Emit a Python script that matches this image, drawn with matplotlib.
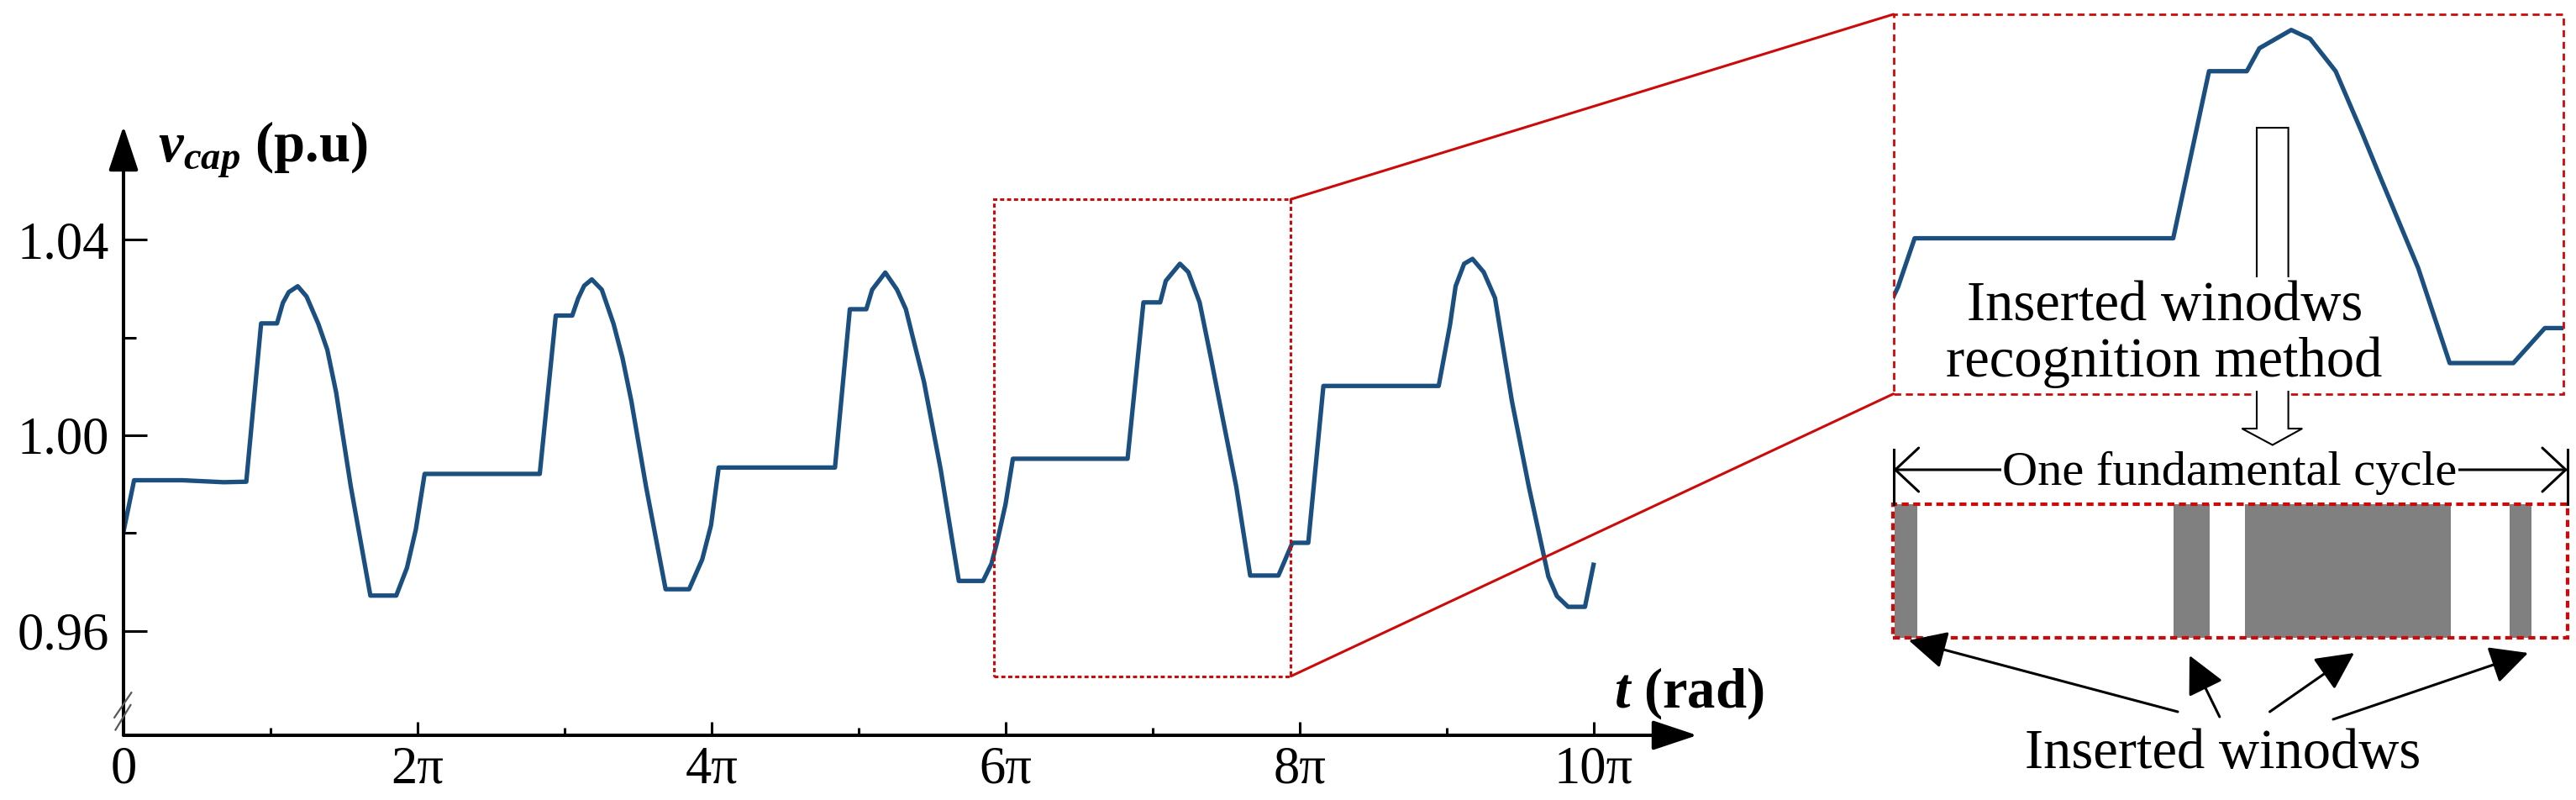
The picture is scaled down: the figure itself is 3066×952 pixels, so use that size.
import matplotlib
matplotlib.use('Agg')
import matplotlib.pyplot as plt
from matplotlib.patches import Rectangle, Polygon, ConnectionPatch, FancyArrowPatch
from matplotlib.lines import Line2D
import numpy as np

# ---------------- data ----------------
t_pi = [0.000, 0.072, 0.400, 0.680, 0.835, 0.936, 1.044, 1.084, 1.124, 1.185,
        1.245, 1.325, 1.386, 1.446, 1.546, 1.679, 1.855, 1.928, 1.988, 2.048,
        2.831, 2.940, 3.052, 3.092, 3.133, 3.185, 3.253, 3.333, 3.394, 3.454,
        3.554, 3.687, 3.847, 3.936, 3.996, 4.048, 4.839, 4.940, 5.052, 5.092,
        5.181, 5.261, 5.321, 5.382, 5.444, 5.558, 5.681, 5.846, 5.903, 5.941,
        5.999, 6.049, 6.829, 6.937, 7.051, 7.089, 7.185, 7.242, 7.319, 7.396,
        7.453, 7.568, 7.663, 7.855, 7.950, 8.058, 8.161, 8.945, 9.022, 9.060,
        9.118, 9.175, 9.251, 9.328, 9.385, 9.443, 9.558, 9.691, 9.749, 9.825,
        9.940, 9.998]
v_cap = [0.9803, 0.9908, 0.9908, 0.9904, 0.9905, 1.0229, 1.0229, 1.0271, 1.0293, 1.0305,
         1.0284, 1.0228, 1.0175, 1.0088, 0.9895, 0.9672, 0.9672, 0.9729, 0.9807, 0.9921,
         0.9921, 1.0245, 1.0245, 1.0280, 1.0306, 1.0319, 1.0298, 1.0228, 1.0158, 1.0070,
         0.9895, 0.9685, 0.9685, 0.9746, 0.9816, 0.9934, 0.9934, 1.0258, 1.0258, 1.0298,
         1.0333, 1.0298, 1.0258, 1.0184, 1.0110, 0.9930, 0.9702, 0.9702, 0.9737, 0.9781,
         0.9859, 0.9952, 0.9952, 1.0272, 1.0272, 1.0316, 1.0351, 1.0334, 1.0272, 1.0158,
         1.0070, 0.9895, 0.9713, 0.9713, 0.9780, 0.9780, 1.0101, 1.0101, 1.0226, 1.0305,
         1.0351, 1.0361, 1.0334, 1.0281, 1.0176, 1.0070, 0.9895, 0.9711, 0.9671, 0.9649,
         0.9649, 0.9735]

y_major = [0.96, 1.00, 1.04]
y_labels = ['0.96', '1.00', '1.04']
y_minor = [0.98, 1.02]
x_major_pi = [0, 2, 4, 6, 8, 10]
x_labels = ['0', '2π', '4π', '6π', '8π', '10π']
x_minor_pi = [1, 3, 5, 7, 9]

zoom_t = (5.92, 7.94)          # dotted zoom box on the main plot (units of pi)
zoom_v = (0.9507, 1.0483)
inset_t = (5.985, 8.005)       # enlarged view
inset_v = (0.9654, 1.0381)
window_start = [5.994, 6.834, 7.051, 7.849]   # inserted windows (units of pi)
window_end = [6.061, 6.943, 7.671, 7.915]
cycle_t = (5.987, 8.024)

# ---------------- style ----------------
plt.rcParams['font.family'] = ['Liberation Serif', 'DejaVu Serif']
plt.rcParams['mathtext.fontset'] = 'custom'
plt.rcParams['mathtext.rm'] = 'Liberation Serif'
plt.rcParams['mathtext.it'] = 'Liberation Serif:italic'
plt.rcParams['mathtext.bf'] = 'Liberation Serif:bold'
plt.rcParams['mathtext.bfit'] = 'Liberation Serif:bold:italic'

W, H, DPI = 3066, 952, 100
BLUE = '#1a4f80'
RED = '#cc0a0a'
GRAY = '#808080'

fig = plt.figure(figsize=(W / DPI, H / DPI), dpi=DPI)


def fx(x):
    return x / W


def fy(y):
    return 1 - y / H


def box(x0, y0, x1, y1):
    return [fx(x0), fy(y1), fx(x1) - fx(x0), fy(y0) - fy(y1)]


t_rad = np.array(t_pi) * np.pi

# ---------------- main axes ----------------
ax = fig.add_axes(box(147, 150, 2020, 875))
ax.plot(t_rad, v_cap, color=BLUE, lw=3.8, solid_joinstyle='round', zorder=3)
ax.set_xlim(0, 10.703 * np.pi)
ax.set_ylim(0.93861, 1.06328)
for s in ax.spines.values():
    s.set_visible(False)
ax.set_xticks([k * np.pi for k in x_major_pi])
ax.set_xticklabels(x_labels)
ax.set_xticks([k * np.pi for k in x_minor_pi], minor=True)
ax.set_yticks(y_major)
ax.set_yticklabels(y_labels)
ax.set_yticks(y_minor, minor=True)
ax.xaxis.set_ticks_position('bottom')
ax.yaxis.set_ticks_position('left')
ax.tick_params(axis='y', which='major', direction='in', length=20, width=2.2,
               labelsize=45, pad=12)
ax.tick_params(axis='y', which='minor', direction='in', length=11, width=2.2)
ax.tick_params(axis='x', which='major', direction='in', length=11.5, width=2.2,
               labelsize=45, pad=9)
ax.tick_params(axis='x', which='minor', direction='in', length=6.5, width=2.2)

# axis arrows
for end in [(1, 0), (0, 1)]:
    ax.annotate('', xy=end, xytext=(0, 0), xycoords='axes fraction',
                textcoords='axes fraction',
                arrowprops=dict(arrowstyle='-|>,head_length=33,head_width=11',
                                mutation_scale=1, lw=2.9, color='k',
                                shrinkA=0, shrinkB=0))

# axis break marks
for (xa, ya, xb, yb) in [(136.2, 853.8, 156.3, 824.3), (137.5, 868.5, 155.4, 839.0)]:
    fig.add_artist(Line2D([fx(xa), fx(xb)], [fy(ya), fy(yb)], color='0.35', lw=1.6,
                          transform=fig.transFigure))

fig.text(fx(188), fy(193), r'$\mathbfit{v}_{\mathbfit{cap}}$ (p.u)', fontsize=48,
         fontweight='bold', ha='left', va='baseline')
fig.text(fx(1921), fy(842), r'$\mathbfit{t}$ (rad)', fontsize=48,
         fontweight='bold', ha='left', va='baseline')

# zoom rectangle
ax.add_patch(Rectangle((zoom_t[0] * np.pi, zoom_v[0]), (zoom_t[1] - zoom_t[0]) * np.pi,
                       zoom_v[1] - zoom_v[0], fill=False, ec=RED, lw=2.2,
                       ls=(0, (1.6, 1.1)), zorder=4))

# ---------------- inset ----------------
axi = fig.add_axes(box(2253.6, 17, 3050.6, 468.7))
axi.plot(t_rad, v_cap, color=BLUE, lw=3.8, solid_joinstyle='round')
axi.set_xlim(inset_t[0] * np.pi, inset_t[1] * np.pi)
axi.set_ylim(*inset_v)
axi.set_xticks([])
axi.set_yticks([])
for s in axi.spines.values():
    s.set_visible(False)
axi.add_patch(Rectangle((0, 0), 1, 1, transform=axi.transAxes, fill=False, ec=RED,
                        lw=2.0, ls=(0, (3.0, 2.0)), clip_on=False, zorder=5))

for vv, ya in [(zoom_v[1], 1), (zoom_v[0], 0)]:
    con = ConnectionPatch(xyA=(zoom_t[1] * np.pi, vv), coordsA=ax.transData,
                          xyB=(0, ya), coordsB=axi.transAxes, color=RED, lw=2.2)
    fig.add_artist(con)

# hollow arrow
pts = [(2686, 152), (2723.6, 152), (2723.6, 510), (2740.2, 510), (2704.8, 529.5),
       (2668.4, 510), (2686, 510)]
fig.add_artist(Polygon([(fx(x), fy(y)) for x, y in pts], closed=True, fc='white',
                       ec='black', lw=1.5, transform=fig.transFigure, zorder=5))
fig.add_artist(Rectangle((fx(2680), fy(465)), fx(2730) - fx(2680), fy(330) - fy(465),
                         fc='white', ec='none', transform=fig.transFigure, zorder=6))
fig.text(fx(2577), fy(381), 'Inserted winodws', fontsize=48, ha='center',
         va='baseline', zorder=7)
fig.text(fx(2575.5), fy(448), 'recognition method', fontsize=48, ha='center',
         va='baseline', zorder=7)

# one fundamental cycle dimension line
fig.add_artist(FancyArrowPatch((fx(2253.6), fy(559)), (fx(3056), fy(559)),
                               arrowstyle='<->,head_length=20,head_width=18.7',
                               mutation_scale=1, lw=2.2, color='k',
                               transform=fig.transFigure, shrinkA=0, shrinkB=0))
for xb in (2253.6, 3056):
    fig.add_artist(Line2D([fx(xb), fx(xb)], [fy(535), fy(600)], color='k', lw=2.2,
                          transform=fig.transFigure))
fig.text(fx(2654), fy(577), 'One fundamental cycle', fontsize=42, ha='center',
         va='baseline', zorder=7,
         bbox=dict(boxstyle='square,pad=0.02', fc='white', ec='none'))

# windows bar
axb = fig.add_axes(box(2252.5, 600, 3056, 759))
axb.set_xlim(cycle_t[0] * np.pi, cycle_t[1] * np.pi)
axb.set_ylim(0, 1)
for s, e in zip(window_start, window_end):
    axb.axvspan(s * np.pi, e * np.pi, color=GRAY, lw=0)
axb.axis('off')
axb.add_patch(Rectangle((0, 0), 1, 1, transform=axb.transAxes, fill=False, ec=RED,
                        lw=3, ls=(0, (2.0, 1.3)), clip_on=False))

# black arrows
for (xs, ys, xt, yt) in [(2592, 847, 2271.8, 762), (2641.8, 853, 2606, 780),
                         (2701.5, 847, 2802, 777), (2777, 856, 3009, 777)]:
    fig.add_artist(FancyArrowPatch((fx(xs), fy(ys)), (fx(xt), fy(yt)),
                                   arrowstyle='-|>,head_length=28,head_width=14',
                                   mutation_scale=1, lw=2.2, color='k',
                                   transform=fig.transFigure, shrinkA=0, shrinkB=0))
fig.text(fx(2646), fy(914), 'Inserted winodws', fontsize=48, ha='center',
         va='baseline')

fig.savefig('out.png', dpi=DPI)
